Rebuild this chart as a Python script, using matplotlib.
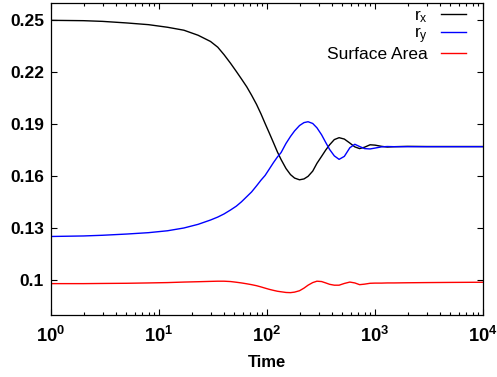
import matplotlib
matplotlib.use("Agg")
import matplotlib.pyplot as plt
from matplotlib.ticker import FixedLocator, FixedFormatter, LogLocator, NullFormatter

plt.rcParams['font.family'] = ['Liberation Sans', 'DejaVu Sans']
plt.rcParams['mathtext.fontset'] = 'custom'
plt.rcParams['mathtext.rm'] = 'Liberation Sans'
plt.rcParams['mathtext.bf'] = 'Liberation Sans:bold'
plt.rcParams['mathtext.it'] = 'Liberation Sans:italic'

time = [1, 2, 3, 5, 8, 12, 17, 23, 30, 35, 40, 46, 52, 58, 65, 72, 80, 88, 96, 105,
        115, 125, 135, 150, 165, 180, 200, 220, 240, 265, 290, 320, 350, 380, 420, 465,
        520, 585, 650, 720, 800, 900, 1000, 1150, 1300, 1500, 2000, 3000, 5000, 10000]

r_x = [0.2500, 0.2498, 0.2494, 0.2485, 0.2475, 0.2460, 0.2443, 0.2414, 0.2378, 0.2345,
       0.2302, 0.2252, 0.2205, 0.2162, 0.2116, 0.2068, 0.2015, 0.1960, 0.1905, 0.1850,
       0.1793, 0.1740, 0.1697, 0.1645, 0.1610, 0.1590, 0.1580, 0.1585, 0.1600, 0.1630,
       0.1675, 0.1715, 0.1752, 0.1782, 0.1812, 0.1823, 0.1815, 0.1792, 0.1770, 0.1760,
       0.1768, 0.1782, 0.1780, 0.1773, 0.1769, 0.1771, 0.1773, 0.1772, 0.1772, 0.1772]

r_y = [0.1253, 0.1256, 0.1260, 0.1267, 0.1275, 0.1286, 0.1302, 0.1323, 0.1348, 0.1365,
       0.1383, 0.1406, 0.1428, 0.1453, 0.1483, 0.1510, 0.1545, 0.1578, 0.1605, 0.1642,
       0.1680, 0.1712, 0.1737, 0.1790, 0.1830, 0.1862, 0.1893, 0.1910, 0.1915, 0.1905,
       0.1880, 0.1840, 0.1795, 0.1755, 0.1718, 0.1698, 0.1715, 0.1765, 0.1785, 0.1772,
       0.1760, 0.1758, 0.1763, 0.1770, 0.1772, 0.1771, 0.1771, 0.1771, 0.1771, 0.1771]

surface_area = [0.0981, 0.0981, 0.0982, 0.0983, 0.0985, 0.0987, 0.0990, 0.0992, 0.0994, 0.0995,
                0.0995, 0.0993, 0.0989, 0.0985, 0.0980, 0.0975, 0.0969, 0.0962, 0.0955, 0.0948,
                0.0942, 0.0937, 0.0934, 0.0930, 0.0929, 0.0932, 0.0940, 0.0955, 0.0972, 0.0987,
                0.0995, 0.0993, 0.0985, 0.0977, 0.0972, 0.0972, 0.0982, 0.0990, 0.0985, 0.0975,
                0.0978, 0.0983, 0.0984, 0.0984, 0.0985, 0.0985, 0.0986, 0.0987, 0.0988, 0.0989]

y_ticks = [0.1, 0.13, 0.16, 0.19, 0.22, 0.25]
y_tick_labels = ["0.1", "0.13", "0.16", "0.19", "0.22", "0.25"]
x_ticks = [1, 10, 100, 1000, 10000]
x_tick_labels = [r"$\mathbf{10^{0}}$", r"$\mathbf{10^{1}}$", r"$\mathbf{10^{2}}$",
                 r"$\mathbf{10^{3}}$", r"$\mathbf{10^{4}}$"]

fig = plt.figure(figsize=(4.97, 3.77), dpi=100)
ax = fig.add_axes([51/497, 1-315/377, (483-51)/497, (315-3)/377])

ax.plot(time, r_x, color='black', lw=1.0, label=r"$\mathregular{r_x}$")
ax.plot(time, r_y, color='#0000ff', lw=1.0, label=r"$\mathregular{r_y}$")
ax.plot(time, surface_area, color='#ff0000', lw=1.0, label="Surface Area")

ax.set_xscale('log')
ax.set_xlim(1, 10000)
ax.set_ylim(0.08, 0.26)
ax.xaxis.set_major_locator(FixedLocator(x_ticks))
ax.xaxis.set_major_formatter(FixedFormatter(x_tick_labels))
ax.xaxis.set_minor_locator(LogLocator(base=10, subs=range(2, 10)))
ax.xaxis.set_minor_formatter(NullFormatter())
ax.yaxis.set_major_locator(FixedLocator(y_ticks))
ax.yaxis.set_major_formatter(FixedFormatter(y_tick_labels))

ax.tick_params(which='both', direction='in', top=True, right=True)
ax.tick_params(which='major', length=4.5, width=0.8)
ax.tick_params(which='minor', length=2.5, width=0.8)
ax.tick_params(axis='y', pad=5)
ax.tick_params(axis='x', pad=8)
for lab in ax.get_yticklabels():
    lab.set_fontweight('bold')
    lab.set_fontsize(12.5)
for lab in ax.get_xticklabels():
    lab.set_fontsize(13.2)
for s in ax.spines.values():
    s.set_linewidth(0.9)

ax.set_xlabel("Time", fontsize=12, fontweight='bold', labelpad=6)

leg = ax.legend(loc='upper right', markerfirst=False, frameon=False, fontsize=12.5,
                handlelength=1.45, handletextpad=0.75, labelspacing=0.06,
                borderaxespad=0.0, borderpad=0.0, bbox_to_anchor=(0.9606, 0.985))

fig.savefig("out.png", dpi=100)
